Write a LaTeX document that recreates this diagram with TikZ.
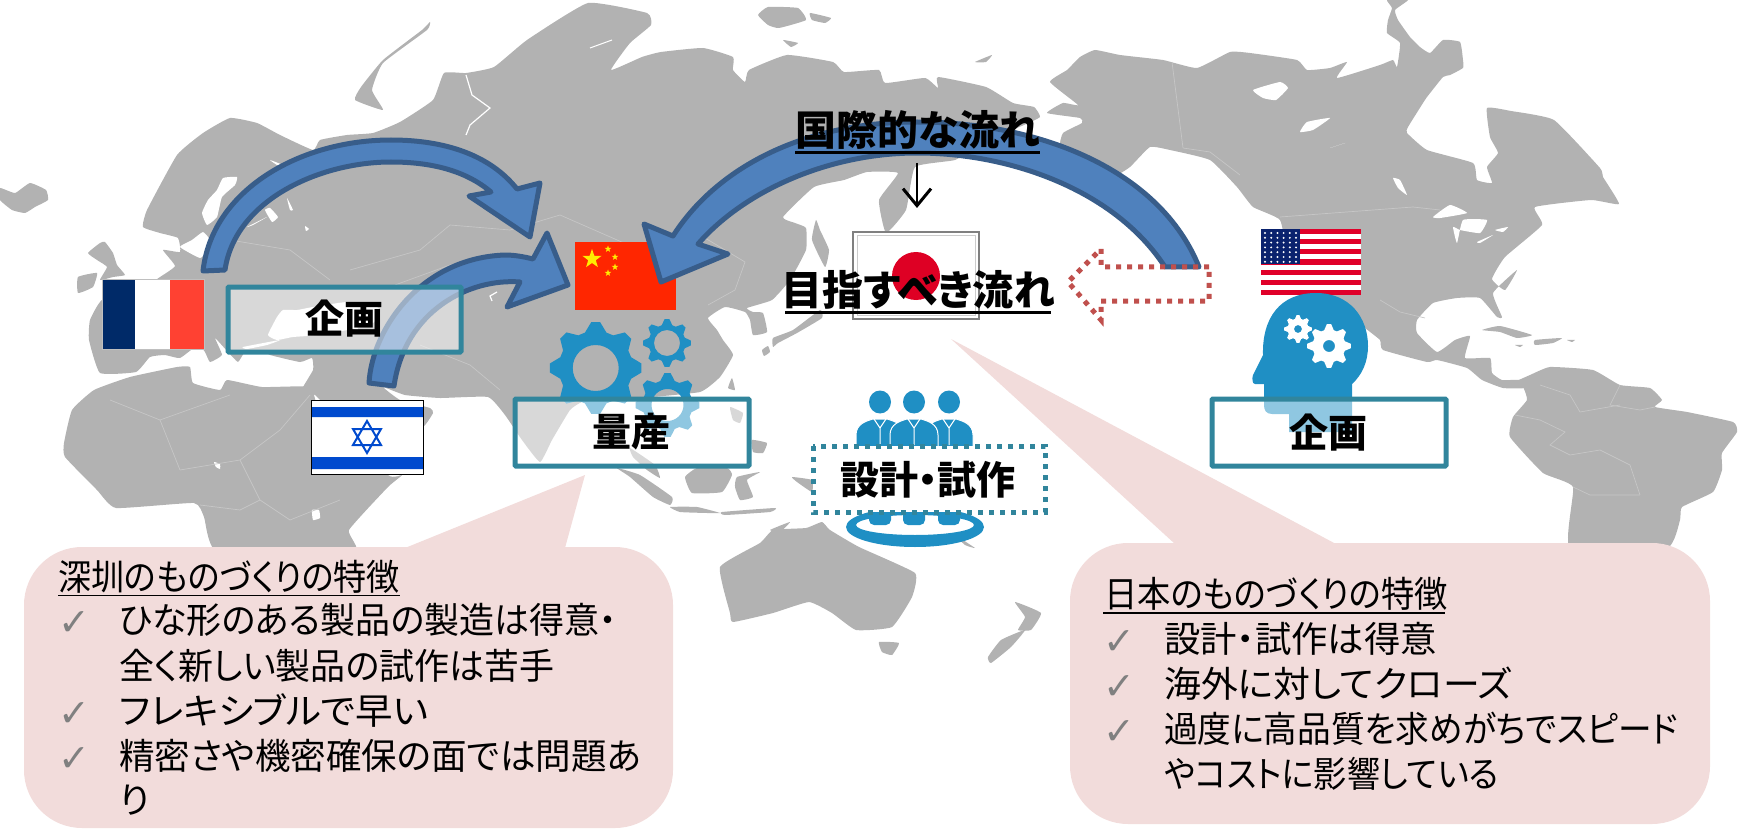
\documentclass[tikz,border=0pt]{standalone}
\usepackage{fontspec}
\usepackage{graphicx}
\usetikzlibrary{arrows.meta}
\setmainfont{Noto Sans CJK JP}[RawFeature={+palt}]
\newfontfamily\chk{DejaVu Sans}
\definecolor{landc}{HTML}{B2B2B2}
\definecolor{borderc}{HTML}{C6C6C6}
\definecolor{bubblec}{HTML}{F2DCDB}
\definecolor{tealc}{HTML}{31859C}
\definecolor{iconc}{HTML}{1F8FC4}
\definecolor{arrowf}{HTML}{4F81BD}
\definecolor{arrowd}{HTML}{385D8A}
\definecolor{dotr}{HTML}{C0504D}
\newcommand\landshape[1]{\fill[fill=landc] plot[smooth cycle,tension=0.25] coordinates {#1};}
\newcommand\seashape[1]{\fill[fill=white] plot[smooth cycle,tension=0.25] coordinates {#1};}
\newcommand\bline[1]{\draw[bord] plot coordinates {#1};}
\newcommand\sx[2]{\scalebox{#1}[1]{#2}}
\newcommand\gearicon[7]{% x y R r hole teeth colour
  \fill[#7,even odd rule] plot[samples at={0,...,\numexpr 4*#6-1\relax},variable=\k]
   ({#1+(mod(\k,4)<2?#3:#4)*cos((\k-0.5)*90/#6)},{#2+(mod(\k,4)<2?#3:#4)*sin((\k-0.5)*90/#6)}) -- cycle
   (#1,#2) circle[radius=#5];}
\newcommand\starshape[4]{\fill[#4] plot[samples at={0,...,9},variable=\k]
   ({#1+(mod(\k,2)==0?#3:0.4*#3)*sin(36*\k)},{#2-(mod(\k,2)==0?#3:0.4*#3)*cos(36*\k)}) -- cycle;}
\tikzset{
  bord/.style={draw=borderc,line width=0.7pt},
  flagedge/.style={draw=black!25,line width=0.8pt},
  labelbox/.style={draw=tealc,line width=5pt,fill=white,fill opacity=0.5,rounded corners=1pt},
  bluearrow/.style={fill=arrowf,draw=arrowd,line width=5pt,line join=round},
  boldlabel/.style={font=\fontsize{39}{39}\selectfont\bfseries,inner sep=0pt,text=black},
  headlabel/.style={font=\fontsize{41}{41}\selectfont\bfseries,inner sep=0pt,text=black},
  bubbletext/.style={font=\fontsize{36}{36}\selectfont,anchor=base west,inner sep=0pt,text=black},
  checkmark/.style={font=\chk\fontsize{38}{38}\selectfont,anchor=base west,inner sep=0pt,text=black!50},
  bubble/.style={fill=bubblec,rounded corners=58pt}
}
\begin{document}
\begin{tikzpicture}[x=1pt,y=-1pt]
\useasboundingbox (0,0) rectangle (1738,829);
% ---------- world map ----------
\landshape{(0,188)(15,193)(30,183)(46,190)(48,200)(35,207)(25,213)(12,210)(0,200)}
\landshape{(88,253)(100,243)(105,242)(113,253)(117,265)(125,275)(113,277)(100,280)(107,267)(97,260)}
\landshape{(78,277)(97,273)(93,287)(78,293)}
\landshape{(430,22)(422,30)(383,60)(361,87)(355,100)(383,110)(372,90)(383,63)(427,30)}
\landshape{(758,15)(768,7)(798,8)(806,20)(779,28)(768,25)}
\landshape{(810,13)(831,18)(825,23)(812,20)}
\landshape{(783,40)(798,43)(791,47)}
\landshape{(975,62)(992,55)(986,62)}
% Eurasia
\landshape{(89,340)(90,320)(102,300)(140,290)(160,277)(175,266)(163,250)(180,252)(178,238)(160,233)(143,227)(147,210)(177,155)(203,133)(230,118)(257,123)(280,135)(313,150)(320,140)(347,135)(373,133)(400,122)(433,100)(444,73)(466,73)(494,67)(527,40)(588,3)(647,13)(651,25)(630,43)(611,70)(642,57)(661,52)(703,48)(733,57)(733,70)(745,82)(749,70)(787,55)(833,62)(844,72)(879,70)(885,83)(925,78)(938,88)(938,77)(986,87)(1013,103)(1034,107)(1040,117)(1024,125)(1000,135)(980,145)(955,160)(915,167)(906,210)(886,233)(879,200)(898,173)(867,172)(844,180)(814,187)(783,217)(795,223)(806,228)(806,250)(790,280)(772,300)(747,308)(753,312)(763,313)(767,332)(753,335)(750,320)(745,312)(725,307)(708,318)(717,330)(723,340)(733,355)(720,377)(700,392)(640,398)(600,400)(582,402)(570,410)(552,440)(540,462)(522,440)(505,415)(488,397)(440,398)(405,395)(383,387)(400,400)(430,408)(433,413)(423,427)(390,440)(340,420)(315,395)(300,393)(313,370)(312,358)(300,362)(270,355)(262,350)(245,352)(238,362)(228,352)(215,338)(222,355)(210,362)(205,352)(198,345)(180,358)(165,355)(150,357)(136,372)(100,373)}
% Sakhalin
\landshape{(816,220)(812,240)(825,267)(829,250)(820,230)}
% Africa
\landshape{(64,443)(72,410)(94,390)(130,377)(177,367)(190,367)(193,383)(220,390)(227,380)(262,387)(310,387)(320,410)(388,475)(402,475)(388,487)(349,530)(354,552)(218,552)(204,517)(194,503)(116,508)(97,490)(65,457)}
% Japan, Korea side, Taiwan
\landshape{(773,338)(793,330)(820,310)(822,318)(797,333)(778,343)(773,347)}
\landshape{(762,350)(768,346)(770,352)(764,356)}
\landshape{(732,378)(735,390)(728,388)}
% South-East Asia
\landshape{(630,448)(655,465)(660,478)(647,470)(633,457)}
\landshape{(617,468)(640,475)(672,497)(670,505)(653,497)(630,477)}
\landshape{(685,477)(697,468)(727,468)(732,475)(722,492)(692,493)}
\landshape{(737,477)(760,472)(747,480)(753,497)(740,500)(735,487)}
\landshape{(670,507)(697,507)(720,513)(707,513)(680,512)}
\landshape{(722,512)(775,508)(770,512)(725,515)}
\landshape{(792,477)(812,480)(812,492)(797,482)}
\landshape{(752,440)(767,443)(763,453)(753,452)}
\landshape{(730,407)(743,413)(740,423)(733,420)}
\landshape{(770,530)(790,522)(780,532)}
\landshape{(955,535)(975,548)(965,545)}
% Australia, NZ
\landshape{(720,567)(760,543)(773,530)(806,528)(822,522)(830,530)(859,547)(915,573)(912,597)(892,627)(856,630)(832,613)(809,602)(773,613)(733,622)(730,613)}
\landshape{(879,642)(899,643)(892,655)(882,652)}
\landshape{(1015,602)(1041,613)(1031,630)(1018,630)(1025,617)}
\landshape{(1025,630)(1011,647)(991,663)(988,657)(1001,640)}
% North America
\landshape{(1050,82)(1067,70)(1080,57)(1095,50)(1120,55)(1163,60)(1197,68)(1230,52)(1250,53)(1297,60)(1307,70)(1330,68)(1347,62)(1337,78)(1380,65)(1393,60)(1397,67)(1400,43)(1387,33)(1388,20)(1392,8)(1387,0)(1408,0)(1395,10)(1398,20)(1410,37)(1420,47)(1430,53)(1443,40)(1460,42)(1463,60)(1463,68)(1450,75)(1443,77)(1427,97)(1423,103)(1408,127)(1407,133)(1427,150)(1473,163)(1477,180)(1492,183)(1487,167)(1498,153)(1490,137)(1487,108)(1511,111)(1554,120)(1600,168)(1603,177)(1619,204)(1591,200)(1535,207)(1542,225)(1505,257)(1492,279)(1505,290)(1517,270)(1493,293)(1502,317)(1497,317)(1480,298)(1457,298)(1433,303)(1417,320)(1417,333)(1437,352)(1455,340)(1470,336)(1465,358)(1490,358)(1492,373)(1502,380)(1520,380)(1525,388)(1503,388)(1482,380)(1467,368)(1437,360)(1427,362)(1383,350)(1380,340)(1365,328)(1330,300)(1290,260)(1280,220)(1253,207)(1237,187)(1210,160)(1170,150)(1150,147)(1130,167)(1113,177)(1103,167)(1080,155)(1060,147)(1063,133)(1082,123)(1080,118)(1047,113)(1063,103)(1078,105)}
% Caribbean
\landshape{(1482,330)(1500,326)(1532,335)(1517,338)(1500,332)}
\landshape{(1535,340)(1562,338)(1553,343)(1535,345)}
\landshape{(1515,345)(1523,345)(1520,347)}
\landshape{(1567,340)(1575,340)(1572,342)}
% South America
\landshape{(1530,375)(1550,367)(1593,370)(1620,385)(1650,388)(1662,400)(1655,407)(1687,412)(1733,422)(1737,432)(1722,453)(1722,470)(1713,492)(1682,507)(1680,520)(1667,548)(1570,548)(1573,487)(1543,473)(1510,437)(1513,417)(1527,400)(1523,387)(1513,383)}
% seas and lakes, over all the land
\seashape{(202,213)(208,200)(217,190)(223,178)(237,177)(235,185)(222,197)(217,217)(207,225)}
\seashape{(180,247)(200,258)(208,250)(210,240)(203,232)(192,240)}
\seashape{(247,227)(267,217)(253,225)}
\seashape{(265,210)(270,208)(278,217)(272,222)}
\seashape{(287,198)(293,210)(290,210)}
\seashape{(270,160)(283,165)(277,165)}
\seashape{(305,226)(309,229)(306,231)}
\seashape{(268,335)(277,317)(283,310)(297,310)(313,307)(347,302)(377,307)(380,313)(373,323)(347,330)(320,335)(293,337)(277,340)}
\seashape{(243,347)(280,340)(267,345)(247,349)}
\seashape{(348,320)(355,322)(358,330)(350,328)}
\seashape{(312,510)(319,510)(320,518)(313,520)}
\seashape{(214,462)(220,464)(220,469)(216,467)}
\seashape{(1253,90)(1280,82)(1288,88)(1276,100)(1263,98)}
\seashape{(1300,132)(1307,122)(1330,118)(1313,130)}
\seashape{(1330,148)(1345,143)(1333,147)}
\seashape{(1393,178)(1400,180)(1407,195)(1398,188)}
\seashape{(1433,217)(1450,205)(1467,213)(1440,218)}
\seashape{(1453,227)(1457,243)(1463,220)(1487,220)(1480,233)(1460,230)}
\seashape{(1477,242)(1493,235)(1480,243)}
\seashape{(1495,230)(1508,227)(1503,232)}
\draw[white,line width=1.2pt] plot coordinates {(466,75)(472,95)(490,108)(470,125)(466,135)};
\draw[white,line width=1pt] plot coordinates {(590,48)(612,40)};
\draw[white,line width=1.2pt] plot coordinates {(497,292)(490,296)(492,301)};
% country borders
\bline{(1280,217)(1413,207)(1440,210)}
\bline{(1172,62)(1183,148)}
\bline{(1183,148)(1210,152)(1240,175)}
\bline{(1380,300)(1400,312)(1425,318)}
\bline{(1540,385)(1570,395)(1580,412)(1620,405)}
\bline{(1515,415)(1540,420)(1565,432)(1550,445)(1570,455)(1600,450)(1630,465)(1635,480)(1640,495)}
\bline{(1573,487)(1590,495)(1610,495)(1640,495)}
\bline{(1620,385)(1610,405)(1640,410)(1655,407)}
\bline{(110,400)(160,420)(180,470)}
\bline{(180,470)(240,460)(280,430)(310,395)}
\bline{(160,420)(230,395)}
\bline{(240,460)(260,500)(290,520)(340,500)}
\bline{(200,505)(240,510)(260,500)}
\bline{(230,240)(290,250)(330,280)}
\bline{(350,270)(420,250)(450,225)(510,230)(560,215)}
\bline{(395,285)(450,265)(480,260)(560,290)}
\bline{(420,345)(470,365)(500,390)}
\bline{(640,250)(700,235)(745,262)(735,290)(708,305)}
\bline{(560,215)(640,250)}
% ---------- speech bubbles ----------
\fill[bubble] (24,547) rectangle (673,828);
\fill[bubblec] (405,548) -- (585,475) -- (565,548) -- cycle;
\fill[bubble] (1070,543) rectangle (1710,824);
\fill[bubblec] (1175,544) -- (951,339) -- (1336,544) -- cycle;
% ---------- flags ----------
\fill[white] (102,279) rectangle (204,349);
\fill[fill={rgb,255:red,0;green,42;blue,104}] (102,279) rectangle (135,349);
\fill[fill={rgb,255:red,255;green,65;blue,50}] (170,279) rectangle (204,349);
\draw[flagedge] (102,279) rectangle (204,349);
\fill[white] (311,400) rectangle (423,474);
\fill[fill={rgb,255:red,0;green,74;blue,206}] (311,407) rectangle (423,417) (311,457) rectangle (423,469);
\draw[draw={rgb,255:red,0;green,74;blue,206},line width=2pt] (367,421) -- (381,445) -- (353,445) -- cycle (367,453) -- (353,429) -- (381,429) -- cycle;
\draw[black,line width=1pt] (311,400) rectangle (423,474);
\fill[fill={rgb,255:red,255;green,38;blue,0}] (575,242) rectangle (676,310);
\starshape{592}{259}{10}{yellow!95!orange}
\starshape{608}{249}{3.5}{yellow!95!orange}
\starshape{615}{257}{3.5}{yellow!95!orange}
\starshape{615}{267}{3.5}{yellow!95!orange}
\starshape{608}{273}{3.5}{yellow!95!orange}
% Japan
\fill[white] (853,232) rectangle (979,319);
\draw[black!50,line width=1.6pt] (853,232) rectangle (979,319);
\draw[black!20,line width=1pt] (857,236) rectangle (975,315);
\fill[fill={rgb,255:red,222;green,0;blue,36}] (916,276) circle[radius=24];
% USA
\fill[white] (1261,229) rectangle (1361,295);
\foreach \i in {0,2,...,12}{\fill[fill={rgb,255:red,224;green,0;blue,41}] (1261,229+\i*5.077) rectangle (1361,229+\i*5.077+5.077);}
\fill[fill={rgb,255:red,10;green,34;blue,110}] (1261,229) rectangle (1300,264);
\foreach \a in {0,...,5}{\foreach \b in {0,...,6}{\fill[white] (1265+\a*6.2,233+\b*4.8) circle[radius=1.1];}}
% ---------- gears ----------
\gearicon{595.7}{368}{46}{37}{23}{8}{iconc}
\gearicon{667}{343}{24}{18.5}{13}{8}{iconc}
\gearicon{667.5}{405}{32}{25}{16}{8}{iconc}
% ---------- head ----------
\fill[iconc] (1352,384) -- (1352,432) -- (1289,432) -- (1289,414) -- (1272,414) .. controls (1266,414) and (1264,410) .. (1264,405) -- (1264,384) -- (1255,384) .. controls (1252,384) and (1252,378) .. (1253,375) -- (1263,355) .. controls (1262,318) and (1280,293) .. (1316,293) .. controls (1350,293) and (1368,318) .. (1368,346) .. controls (1368,362) and (1362,375) .. (1352,384) -- cycle;
\gearicon{1298}{329}{14}{10.5}{4}{8}{white}
\gearicon{1329}{346}{22}{16.5}{6}{8}{white}
% ---------- people ----------
\foreach \c in {880,949,914}{
  \fill[iconc] (\c,402) ellipse[x radius=11,y radius=11.5];
  \fill[iconc,draw=white,line width=1pt] (\c-24,448) -- (\c-24,435) .. controls (\c-24,424) and (\c-14,421) .. (\c-7,419) -- (\c+7,419) .. controls (\c+14,421) and (\c+24,424) .. (\c+24,435) -- (\c+24,448) -- cycle;
  \draw[white,line width=1pt] (\c-6,419) -- (\c,428) -- (\c+6,419) (\c,428) -- (\c,445);
}
\fill[iconc,even odd rule] (915,527) ellipse[x radius=69,y radius=20] (915,525) ellipse[x radius=59,y radius=10];
\foreach \c in {880,949,914}{\fill[iconc,rounded corners=5pt] (\c-11,505) rectangle (\c+11,525);}
% ---------- big arrows ----------
\draw[bluearrow] (203,271) .. controls (212,190) and (300,140) .. (391,140) .. controls (445,140) and (490,155) .. (517,189) -- (540,183) -- (530,237) -- (469,196) -- (491,192) .. controls (465,170) and (430,162) .. (391,162) .. controls (320,162) and (235,200) .. (225,270) -- cycle;
\draw[bluearrow] (369,383) .. controls (372,330) and (420,258) .. (505,255) .. controls (515,255) and (525,257) .. (533,259) -- (547,233) -- (568,285) -- (507,307) -- (520,282) .. controls (470,278) and (405,310) .. (394,386) -- cycle;
\draw[bluearrow] (1199,267) .. controls (1160,170) and (1040,122) .. (917,122) .. controls (800,122) and (715,170) .. (673,236) -- (644,224) -- (661,282) -- (728,254) -- (698,244) .. controls (745,190) and (830,153) .. (917,153) .. controls (1010,153) and (1115,190) .. (1165,267) -- cycle;
% ---------- dotted arrow ----------
\draw[dotr,line width=5pt,dash pattern=on 5pt off 6pt] (1209,267) -- (1101,267) -- (1101,249) -- (1068,282) -- (1101,320) -- (1101,301) -- (1209,301) -- cycle;
% ---------- labels ----------
\node[headlabel] (kokusai) at (918,130) {国際的な流れ};
\draw[line width=3pt] (795,152.5) -- (1040,152.5);
\node[headlabel] (mezasu) at (918,290) {目指すべき流れ};
\draw[line width=3pt] (785,312.5) -- (1051,312.5);
\coordinate (downs) at (917,163);
\coordinate (downe) at (917,208);
\draw[-{Straight Barb[length=17pt,width=28pt,line width=3pt]},line width=2.8pt] (downs) -- (downe);
% ---------- boxes ----------
\draw[labelbox] (228,287) rectangle (461,352);
\node[boldlabel] (kikaku1) at (344,319) {企画};
\draw[labelbox] (515,399) rectangle (749,466);
\node[boldlabel] (ryosan) at (631,432) {量産};
\draw[labelbox] (1212,399) rectangle (1446,466);
\node[boldlabel] (kikaku2) at (1328,433) {企画};
\draw[draw=tealc,line width=5pt,dash pattern=on 5pt off 6pt,fill=white] (813,446) rectangle (1045,512);
\node[boldlabel] (sekkei) at (928,480) {設計・試作};
% ---------- bubble text left ----------
\node[bubbletext] (lt) at (58,590) {\sx{0.92}{深圳のものづくりの特徴}};
\draw[line width=1.8pt] (58,595.5) -- (400,595.5);
\node[checkmark] (lc1) at (58,635) {✓};
\node[bubbletext] (l1) at (119,633) {\sx{0.972}{ひな形のある製品の製造は得意・}};
\node[bubbletext] (l2) at (119,679) {\sx{0.972}{全く新しい製品の試作は苦手}};
\node[checkmark] (lc2) at (58,726) {✓};
\node[bubbletext] (l3) at (119,724) {\sx{1.04}{フレキシブルで早い}};
\node[checkmark] (lc3) at (58,771) {✓};
\node[bubbletext] (l4) at (119,769) {\sx{0.987}{精密さや機密確保の面では問題あ}};
\node[bubbletext] (l5) at (119,813) {り};
% ---------- bubble text right ----------
\node[bubbletext] (rt) at (1104,607) {\sx{0.925}{日本のものづくりの特徴}};
\draw[line width=1.8pt] (1103,613) -- (1445,613);
\node[checkmark] (rc1) at (1103,654) {✓};
\node[bubbletext] (r1) at (1164,652) {\sx{1.01}{設計・試作は得意}};
\node[checkmark] (rc2) at (1103,699) {✓};
\node[bubbletext] (r2) at (1164,697) {\sx{1.024}{海外に対してクローズ}};
\node[checkmark] (rc3) at (1103,744) {✓};
\node[bubbletext] (r3) at (1164,742) {\sx{0.935}{過度に高品質を求めがちでスピード}};
\node[bubbletext] (r4) at (1164,787) {\sx{0.92}{やコストに影響している}};
\end{tikzpicture}
\end{document}
